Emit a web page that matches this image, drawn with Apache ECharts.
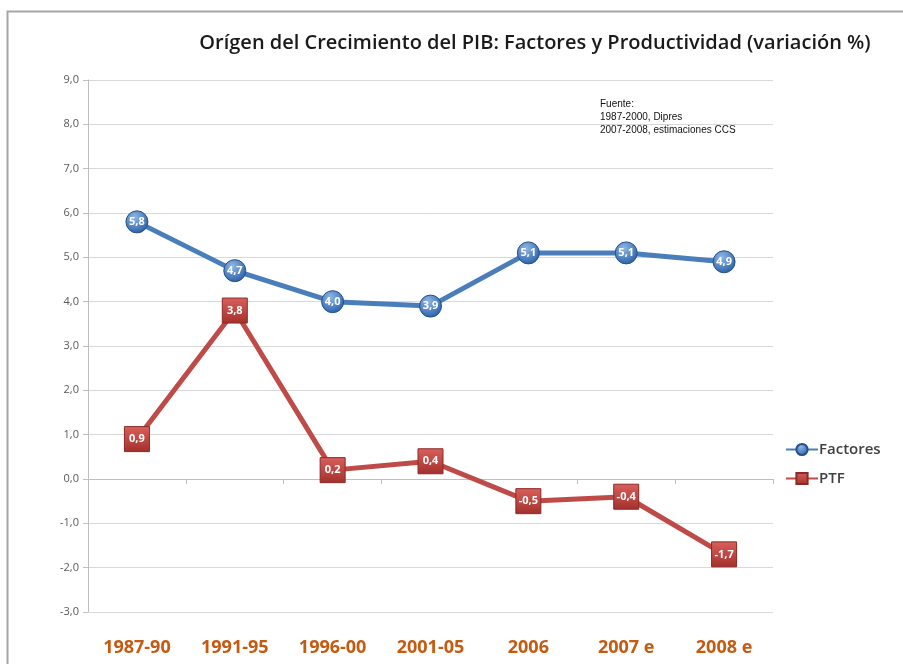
<!DOCTYPE html>
<html lang="es">
<head>
    <meta charset="UTF-8">
    <title>Orígen del Crecimiento del PIB</title>
    <script src="https://cdn.jsdelivr.net/npm/echarts@6/dist/echarts.min.js"></script>
    <style>
        html, body { margin: 0; padding: 0; background: #fff; }
        #chart { width: 903px; height: 664px; }
    </style>
</head>
<body>
<div id="chart"></div>
<script>
    // datos
    var periodos = ['1987-90', '1991-95', '1996-00', '2001-05', '2006', '2007 e', '2008 e'];
    var factores = [5.8, 4.7, 4.0, 3.9, 5.1, 5.1, 4.9];
    var ptf = [0.9, 3.8, 0.2, 0.4, -0.5, -0.4, -1.7];

    var myChart = echarts.init(document.getElementById('chart'));

    function coma(v) {
        return v.toFixed(1).replace('.', ',');
    }

    var option = {
        backgroundColor: '#fff',
        animation: false,
        title: {
            text: 'Orígen del Crecimiento del PIB: Factores y Productividad (variación %)',
            left: 530,
            top: 28,
            textAlign: 'center',
            textStyle: {
                fontFamily: 'Open Sans',
                fontWeight: 600,
                fontSize: 20,
                color: '#1a1a1a'
            }
        },
        graphic: [
            {
                type: 'rect',
                shape: { x: 7.5, y: 11.5, width: 1000, height: 1000 },
                style: { fill: 'none', stroke: '#a6a6a6', lineWidth: 2 }
            },
            {
                type: 'text',
                left: 600,
                top: 98,
                style: {
                    text: 'Fuente:\n1987-2000, Dipres\n2007-2008, estimaciones CCS',
                    font: '10px "Liberation Sans"',
                    lineHeight: 13,
                    fill: '#111'
                }
            }
        ],
        legend: {
            orient: 'vertical',
            left: 780,
            top: 437,
            itemGap: 14,
            itemWidth: 32,
            itemHeight: 14,
            textStyle: {
                fontFamily: 'Open Sans',
                fontWeight: 600,
                fontSize: 15,
                color: '#404040',
                padding: [0, 0, 0, -4]
            },
            data: ['Factores', 'PTF']
        },
        grid: {
            left: 88,
            right: 130,
            top: 80,
            bottom: 52
        },
        xAxis: [
            {
                type: 'category',
                data: periodos,
                boundaryGap: true,
                axisLine: { onZero: true, lineStyle: { color: '#bfbfbf', width: 1 } },
                axisTick: { show: true, length: 5, inside: false, lineStyle: { color: '#bfbfbf' } },
                axisLabel: { show: false }
            },
            {
                type: 'category',
                data: periodos,
                position: 'bottom',
                boundaryGap: true,
                axisLine: { show: false, onZero: false },
                axisTick: { show: false },
                axisLabel: {
                    margin: 27,
                    fontFamily: 'Open Sans',
                    fontWeight: 'bold',
                    fontSize: 18,
                    color: '#c55a11'
                }
            }
        ],
        yAxis: {
            type: 'value',
            min: -3,
            max: 9,
            interval: 1,
            axisLine: { show: true, lineStyle: { color: '#bfbfbf' } },
            axisTick: { show: true, length: 5, lineStyle: { color: '#bfbfbf' } },
            axisLabel: {
                margin: 9,
                fontFamily: 'Open Sans',
                fontSize: 11,
                color: '#595959',
                formatter: function (v) { return coma(v); }
            },
            splitLine: { lineStyle: { color: '#d9d9d9', width: 1 } }
        },
        series: [
            {
                name: 'Factores',
                type: 'line',
                data: factores,
                symbol: 'circle',
                symbolSize: 22,
                lineStyle: { color: '#4a7ebb', width: 5 },
                itemStyle: {
                    color: new echarts.graphic.RadialGradient(0.4, 0.3, 0.7, [
                        { offset: 0, color: '#8fb6e6' },
                        { offset: 1, color: '#2e63a8' }
                    ]),
                    borderColor: '#24508a',
                    borderWidth: 1
                },
                label: {
                    show: true,
                    position: 'inside',
                    color: '#fff',
                    fontFamily: 'Open Sans',
                    fontWeight: 'bold',
                    fontSize: 11,
                    formatter: function (p) { return coma(p.value); }
                },
                z: 3
            },
            {
                name: 'PTF',
                type: 'line',
                data: ptf,
                symbol: 'rect',
                symbolSize: 25,
                lineStyle: { color: '#be4b48', width: 5 },
                itemStyle: {
                    color: new echarts.graphic.LinearGradient(0, 0, 0, 1, [
                        { offset: 0, color: '#d9605c' },
                        { offset: 1, color: '#a3302c' }
                    ]),
                    borderColor: '#8c2a27',
                    borderWidth: 1
                },
                label: {
                    show: true,
                    position: 'inside',
                    color: '#fff',
                    fontFamily: 'Open Sans',
                    fontWeight: 'bold',
                    fontSize: 11,
                    formatter: function (p) { return coma(p.value); }
                },
                z: 2
            }
        ]
    };

    myChart.setOption(option);
</script>
</body>
</html>
